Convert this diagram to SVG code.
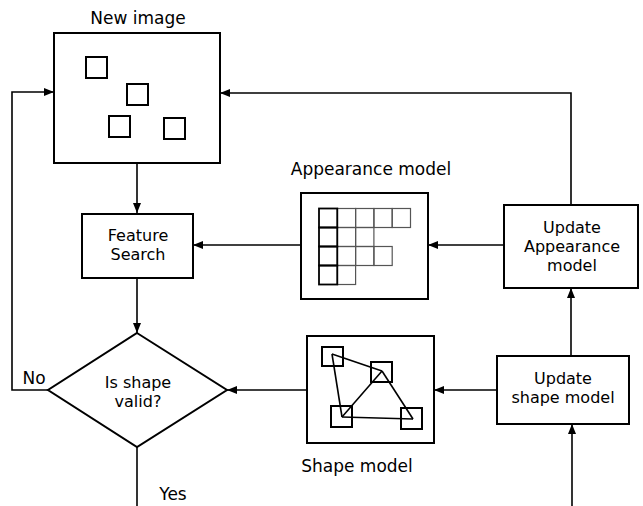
<svg xmlns="http://www.w3.org/2000/svg" width="643" height="506" viewBox="0 0 643 506">
<defs>
<style>
.box{fill:#fff;stroke:#000;stroke-width:2}
.sq{fill:none;stroke:#000;stroke-width:2}
.ln{fill:none;stroke:#000;stroke-width:1.6}
.cell{fill:none;stroke:#555;stroke-width:1.2}
.t{font-family:"DejaVu Sans",sans-serif;font-size:17px;fill:#000;text-anchor:middle}
.m{font-size:16px}
</style>
<marker id="ah" viewBox="0 0 10 8" refX="10" refY="4" markerWidth="10" markerHeight="8" markerUnits="userSpaceOnUse" orient="auto">
<path d="M0,0 L10,4 L0,8 Z" fill="#000"/>
</marker>
</defs>
<rect width="643" height="506" fill="#fff"/>
<g id="connectors">
<line class="ln" x1="137" y1="163" x2="137" y2="213" marker-end="url(#ah)"/>
<line class="ln" x1="137" y1="278" x2="137" y2="333" marker-end="url(#ah)"/>
<polyline class="ln" points="48,390 12,390 12,92 54,92" marker-end="url(#ah)"/>
<line class="ln" x1="137" y1="447" x2="137" y2="506"/>
<line class="ln" x1="301" y1="245" x2="193" y2="245" marker-end="url(#ah)"/>
<line class="ln" x1="504" y1="245" x2="428" y2="245" marker-end="url(#ah)"/>
<line class="ln" x1="307" y1="390" x2="227" y2="390" marker-end="url(#ah)"/>
<line class="ln" x1="497" y1="390" x2="434" y2="390" marker-end="url(#ah)"/>
<polyline class="ln" points="571,205 571,93 220,93" marker-end="url(#ah)"/>
<line class="ln" x1="571" y1="356" x2="571" y2="288" marker-end="url(#ah)"/>
<line class="ln" x1="572" y1="506" x2="572" y2="424" marker-end="url(#ah)"/>
<text class="t" x="34" y="384">No</text>
<text class="t" x="173" y="500">Yes</text>
</g>
<g id="new-image">
<rect class="box" x="54" y="33" width="166" height="130"/>
<rect class="sq" x="86" y="57" width="21" height="21"/>
<rect class="sq" x="127" y="84" width="21" height="21"/>
<rect class="sq" x="109" y="116" width="21" height="21"/>
<rect class="sq" x="164" y="118" width="21" height="21"/>
<text class="t" x="138" y="24">New image</text>
</g>
<g id="feature-search">
<rect class="box" x="82" y="214" width="111" height="64"/>
<text class="t m" x="138" y="241">Feature</text>
<text class="t m" x="138" y="260">Search</text>
</g>
<g id="decision">
<polygon class="box" points="137,333 227,390 137,447 48,390"/>
<text class="t m" x="138" y="388">Is shape</text>
<text class="t m" x="138" y="407">valid?</text>
</g>
<g id="appearance-model">
<rect class="box" x="301" y="193" width="127" height="106"/>
<g class="cell">
<rect x="337.3" y="208.5" width="18.3" height="19"/>
<rect x="355.6" y="208.5" width="18.3" height="19"/>
<rect x="373.9" y="208.5" width="18.3" height="19"/>
<rect x="392.2" y="208.5" width="18.3" height="19"/>
<rect x="337.3" y="227.5" width="18.3" height="19"/>
<rect x="355.6" y="227.5" width="18.3" height="19"/>
<rect x="337.3" y="246.5" width="18.3" height="19"/>
<rect x="355.6" y="246.5" width="18.3" height="19"/>
<rect x="373.9" y="246.5" width="18.3" height="19"/>
<rect x="337.3" y="265.5" width="18.3" height="19"/>
</g>
<g fill="none" stroke="#000" stroke-width="1.8">
<rect x="319" y="208.5" width="18.3" height="19"/>
<rect x="319" y="227.5" width="18.3" height="19"/>
<rect x="319" y="246.5" width="18.3" height="19"/>
<rect x="319" y="265.5" width="18.3" height="19"/>
</g>
<text class="t" x="371" y="175">Appearance model</text>
</g>
<g id="shape-model">
<rect class="box" x="307" y="336" width="127" height="107"/>
<rect class="sq" x="322" y="347" width="21" height="19"/>
<rect class="sq" x="371" y="362" width="21" height="20"/>
<rect class="sq" x="331" y="406" width="21" height="21"/>
<rect class="sq" x="401" y="408" width="21" height="21"/>
<g class="ln">
<line x1="332" y1="354" x2="382" y2="371"/>
<line x1="332" y1="354" x2="342" y2="417"/>
<line x1="382" y1="371" x2="342" y2="417"/>
<line x1="382" y1="371" x2="413" y2="419"/>
<line x1="342" y1="417" x2="413" y2="419"/>
</g>
<text class="t" x="357" y="472">Shape model</text>
</g>
<g id="update-appearance">
<rect class="box" x="504" y="205" width="134" height="83"/>
<text class="t m" x="572" y="232.5">Update</text>
<text class="t m" x="572" y="251.5">Appearance</text>
<text class="t m" x="572" y="270.5">model</text>
</g>
<g id="update-shape">
<rect class="box" x="497" y="356" width="132" height="68"/>
<text class="t m" x="563" y="384">Update</text>
<text class="t m" x="563" y="403">shape model</text>
</g>
</svg>
